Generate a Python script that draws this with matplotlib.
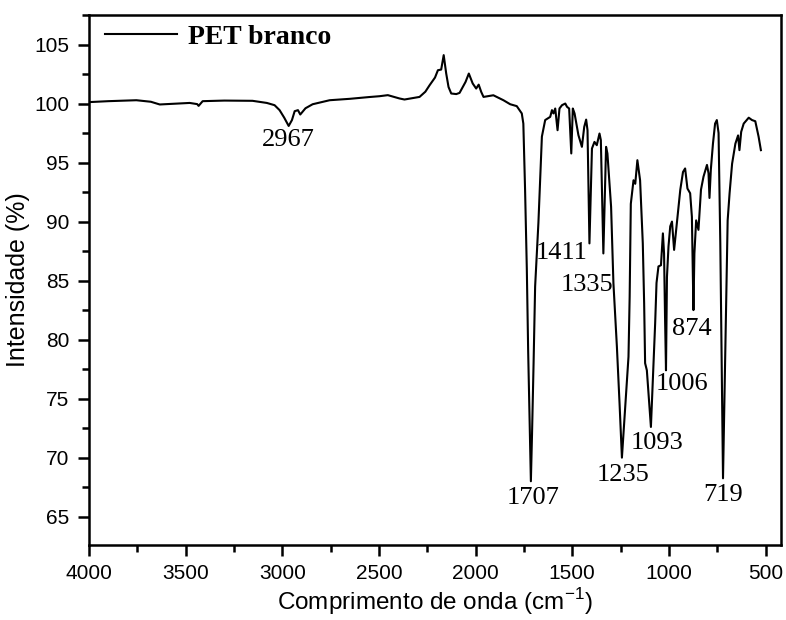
import matplotlib
matplotlib.use("Agg")
import matplotlib.pyplot as plt
from matplotlib.ticker import MultipleLocator

# ---- data ----
wavenumber = [4000, 3900, 3755, 3680, 3634, 3560, 3479, 3440, 3433, 3412, 3300, 3154,
              3080, 3040, 3014, 2990, 2967, 2950, 2936, 2919, 2907, 2880, 2843, 2755,
              2650, 2550, 2497, 2454, 2420, 2394, 2368, 2330, 2290, 2260, 2238, 2210,
              2195, 2178, 2165, 2152, 2140, 2126, 2100, 2083, 2052, 2035, 2015, 1997,
              1984, 1971, 1959, 1908, 1856, 1821, 1787, 1761, 1753, 1744, 1735, 1728,
              1720, 1714, 1708, 1700, 1692, 1675, 1657, 1640, 1614, 1605, 1597, 1588,
              1576, 1566, 1553, 1536, 1527, 1516, 1505, 1497, 1488, 1468, 1450, 1438,
              1428, 1421, 1411, 1398, 1385, 1373, 1359, 1352, 1339, 1325, 1318, 1299,
              1287, 1269, 1255, 1243, 1225, 1209, 1203, 1197, 1183, 1174, 1163, 1149,
              1135, 1128, 1123, 1114, 1093, 1071, 1064, 1054, 1041, 1031, 1025, 1020,
              1015, 1010, 1002, 993, 984, 973, 959, 941, 927, 916, 904, 890, 881, 873,
              868, 859, 847, 834, 821, 803, 795, 790, 783, 772, 761, 752, 743, 734,
              720, 703, 696, 686, 673, 656, 642, 635, 626, 613, 587, 570, 553, 536, 524]
transmittance = [100.12, 100.2, 100.28, 100.15, 99.92, 99.98, 100.05, 99.95, 99.8, 100.2,
                 100.25, 100.23, 100.05, 99.86, 99.44, 98.8, 98.1, 98.6, 99.35, 99.44,
                 99.07, 99.6, 99.94, 100.28, 100.4, 100.55, 100.62, 100.71, 100.55, 100.43,
                 100.34, 100.45, 100.56, 101.0, 101.55, 102.2, 102.82, 102.88, 104.1, 102.54,
                 101.4, 100.85, 100.8, 100.9, 101.83, 102.54, 101.7, 101.27, 101.6, 100.99,
                 100.56, 100.7, 100.28, 99.94, 99.78, 99.16, 98.3, 92.7, 86.0, 79.0,
                 72.5, 68.0, 72.0, 78.0, 84.5, 89.9, 97.2, 98.6, 98.87, 99.44,
                 99.16, 99.58, 97.74, 99.58, 99.86, 100.0, 99.72, 99.58, 95.77, 99.58,
                 99.16, 97.32, 96.33, 98.02, 98.64, 97.74, 88.15, 96.19, 96.75, 96.47,
                 97.46, 96.9, 87.3, 96.33, 95.77, 91.25, 84.8, 79.4, 74.5, 70.0,
                 74.5, 78.55, 83.6, 91.5, 93.5, 93.2, 95.2, 93.5, 88.15, 83.07,
                 78.0, 77.4, 72.6, 81.4, 84.8, 86.2, 86.3, 89.0, 87.3, 82.0,
                 77.4, 85.3, 87.9, 89.6, 90.0, 87.6, 89.8, 92.7, 94.2, 94.5,
                 92.8, 92.4, 90.4, 82.5, 87.3, 90.1, 89.3, 92.7, 93.8, 94.8,
                 94.1, 92.0, 94.4, 96.6, 98.3, 98.6, 97.5, 88.15, 68.25, 83.6,
                 90.1, 92.4, 94.9, 96.6, 97.3, 96.05, 97.6, 98.3, 98.8, 98.6,
                 98.5, 97.2, 96.05]

peak_labels = ["2967", "1411", "1335", "1235", "1093", "1006", "874", "719", "1707"]
peak_label_x = [2967, 1554, 1425, 1238, 1060, 933, 879, 721, 1705]
peak_label_y = [96.9, 87.3, 84.6, 68.5, 71.2, 76.2, 80.9, 66.8, 66.6]

series_name = "PET branco"
x_ticks = [4000, 3500, 3000, 2500, 2000, 1500, 1000, 500]
y_ticks = [65, 70, 75, 80, 85, 90, 95, 100, 105]

# ---- figure ----
fig = plt.figure(figsize=(7.86, 6.2), dpi=100)
ax = fig.add_axes([89 / 786, 1 - 545 / 620, 692 / 786, 530 / 620])

ax.plot(wavenumber, transmittance, color="black", lw=1.5, label=series_name)

ax.set_xlim(4000, 420)
ax.set_ylim(62.6, 107.5)
ax.set_xticks(x_ticks)
ax.set_yticks(y_ticks)
ax.xaxis.set_minor_locator(MultipleLocator(250))
ax.yaxis.set_minor_locator(MultipleLocator(2.5))

sans = "Liberation Sans"
serif = "Liberation Serif"
ax.tick_params(which="major", direction="out", length=8, width=1.8, labelsize=15, pad=6)
ax.tick_params(which="minor", direction="out", length=5, width=1.8)
ax.tick_params(top=False, right=False, which="both")
for lab in ax.get_xticklabels() + ax.get_yticklabels():
    lab.set_fontfamily(sans)
for sp in ax.spines.values():
    sp.set_linewidth(1.8)

ax.set_xlabel(r"Comprimento de onda (cm$^{\mathregular{-1}}$)", fontsize=17.5,
              fontfamily=sans, labelpad=2)
ax.set_ylabel("Intensidade (%)", fontsize=18, fontfamily=sans, labelpad=3)

for t, x, y in zip(peak_labels, peak_label_x, peak_label_y):
    ax.text(x, y, t, ha="center", va="center", fontsize=19, fontfamily=serif)

leg = ax.legend(loc="center left", bbox_to_anchor=(0.0231, 0.958), frameon=False,
                borderpad=0, borderaxespad=0, handlelength=2.6, handletextpad=0.4,
                prop={"family": serif, "weight": "bold", "size": 20})

fig.savefig("out.png", dpi=100)
